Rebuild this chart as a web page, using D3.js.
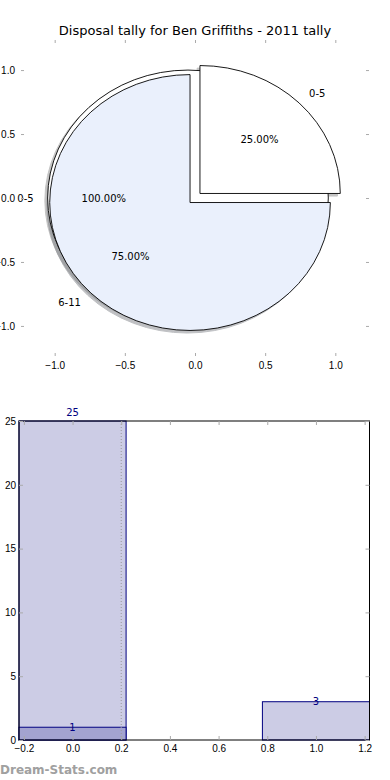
<!DOCTYPE html>
<html>
<head>
<meta charset="utf-8">
<script src="https://cdn.jsdelivr.net/npm/d3@7"></script>
<style>
  body { margin: 0; background: #fff; }
  svg { display: block; font-family: "DejaVu Sans", sans-serif; }
  .tick line { stroke: #aaa; }
  .tick text { fill: #000; font-size: 10px; }
</style>
</head>
<body>
<svg id="chart" width="390" height="780"></svg>
<script>
// pie data
const pieTitle = "Disposal tally for Ben Griffiths - 2011 tally";
const backLabels = ["0-5"];
const backValues = [1];
const pieLabels = ["0-5", "6-11"];
const pieValues = [1, 3];
const pieColors = ["#ffffff", "#eaf0fc"];
const pieTicks = [-1, -0.5, 0, 0.5, 1];

// bar data
const barCats = [0, 1];
const barTotals = [25, 3];
const barFirst = [1];
const barXTicks = [-0.2, 0, 0.2, 0.4, 0.6, 0.8, 1.0, 1.2];
const barYTicks = [0, 5, 10, 15, 20, 25];
const gridAt = [0.2];

const explode = 0.05;
const barWidth = 0.44;

const svg = d3.select("#chart");

// ---------- pie ----------
const px = d3.scaleLinear().domain([-1.24, 1.24]).range([21, 369]);
const py = d3.scaleLinear().domain([-1.235, 1.235]).range([356, 40]);
const kx = px(1) - px(0), ky = py(0) - py(1);

svg.append("text")
    .attr("x", 195).attr("y", 30)
    .attr("text-anchor", "middle")
    .attr("dominant-baseline", "central")
    .attr("font-size", 13)
    .text(pieTitle);

// matplotlib-ish: start at 0deg, counterclockwise -> d3 angle = pi/2 - theta
const pie = d3.pie().sort(null).startAngle(Math.PI / 2).endAngle(Math.PI / 2 - 2 * Math.PI);
const arc = d3.arc().innerRadius(0).outerRadius(1);

function wedges(values, labels, colors) {
    return pie(values).map((d, i) => {
        const theta = Math.PI / 2 - (d.startAngle + d.endAngle) / 2;
        return {
            d, label: labels[i], color: colors[i],
            pct: d.value / d3.sum(values),
            cx: explode * Math.cos(theta), cy: explode * Math.sin(theta),
            ux: Math.cos(theta), uy: Math.sin(theta)
        };
    });
}

const back = wedges(backValues, backLabels, ["#ffffff"]);
const front = wedges(pieValues, pieLabels, pieColors);
const all = back.concat(front);

const pieG = svg.append("g");

// shadows first
pieG.selectAll(".shadow")
    .data(all)
    .join("path")
    .attr("class", "shadow")
    .attr("d", w => arc(w.d))
    .attr("transform", w => `translate(${px(w.cx - 0.02)},${py(w.cy - 0.02)}) scale(${kx},${ky})`)
    .attr("fill", w => d3.rgb(w.color).darker(1.7))
    .attr("stroke", w => d3.rgb(w.color).darker(1.7))
    .attr("vector-effect", "non-scaling-stroke")
    .attr("stroke-width", 1)
    .attr("opacity", 0.5);

pieG.selectAll(".wedge")
    .data(all)
    .join("path")
    .attr("class", "wedge")
    .attr("d", w => arc(w.d))
    .attr("transform", w => `translate(${px(w.cx)},${py(w.cy)}) scale(${kx},${ky})`)
    .attr("fill", w => w.color)
    .attr("stroke", "#000")
    .attr("stroke-width", 0.9)
    .attr("vector-effect", "non-scaling-stroke");

pieG.selectAll(".lbl")
    .data(all)
    .join("text")
    .attr("class", "lbl")
    .attr("x", w => px(w.cx + 1.1 * w.ux))
    .attr("y", w => py(w.cy + 1.1 * w.uy))
    .attr("text-anchor", w => w.ux > 0 ? "start" : "end")
    .attr("dominant-baseline", "central")
    .attr("font-size", 10)
    .text(w => w.label);

pieG.selectAll(".pct")
    .data(all)
    .join("text")
    .attr("class", "pct")
    .attr("x", w => px(w.cx + 0.6 * w.ux))
    .attr("y", w => py(w.cy + 0.6 * w.uy))
    .attr("text-anchor", "middle")
    .attr("dominant-baseline", "central")
    .attr("font-size", 10)
    .text(w => d3.format(".2f")(w.pct * 100) + "%");

const fmt1 = d3.format(".1f");
svg.append("g").attr("transform", `translate(0,${py.range()[0]})`)
    .call(d3.axisBottom(px).tickValues(pieTicks).tickFormat(fmt1).tickSize(-3).tickPadding(6))
    .call(g => g.select(".domain").remove());
svg.append("g").attr("transform", `translate(0,${py.range()[1]})`)
    .call(d3.axisTop(px).tickValues(pieTicks).tickFormat("").tickSize(-3))
    .call(g => g.select(".domain").remove());
svg.append("g").attr("transform", `translate(${px.range()[0]},0)`)
    .call(d3.axisLeft(py).tickValues(pieTicks).tickFormat(fmt1).tickSize(-3).tickPadding(6))
    .call(g => g.select(".domain").remove());
svg.append("g").attr("transform", `translate(${px.range()[1]},0)`)
    .call(d3.axisRight(py).tickValues(pieTicks).tickFormat("").tickSize(-3))
    .call(g => g.select(".domain").remove());

// ---------- bars ----------
const bx = d3.scaleLinear().domain([-0.22, 1.22]).range([19, 369.5]);
const by = d3.scaleLinear().domain([0, 25]).range([740, 421]);

const barG = svg.append("g");

barG.selectAll(".total")
    .data(barCats)
    .join("rect")
    .attr("class", "total")
    .attr("x", (c) => bx(c - barWidth / 2))
    .attr("width", (c) => bx(c + barWidth / 2) - bx(c - barWidth / 2))
    .attr("y", (c, i) => by(barTotals[i]))
    .attr("height", (c, i) => by(0) - by(barTotals[i]))
    .attr("fill", "#ccccE5")
    .attr("stroke", "#000080")
    .attr("stroke-width", 1);

barG.selectAll(".first")
    .data(barFirst)
    .join("rect")
    .attr("class", "first")
    .attr("x", (v, i) => bx(barCats[i] - barWidth / 2))
    .attr("width", (v, i) => bx(barCats[i] + barWidth / 2) - bx(barCats[i] - barWidth / 2))
    .attr("y", v => by(v))
    .attr("height", v => by(0) - by(v))
    .attr("fill", "#a3a3d0")
    .attr("stroke", "#000080")
    .attr("stroke-width", 1);

barG.selectAll(".grid")
    .data(gridAt)
    .join("line")
    .attr("class", "grid")
    .attr("x1", bx).attr("x2", bx)
    .attr("y1", by(0)).attr("y2", by(25))
    .attr("stroke", "#999")
    .attr("stroke-dasharray", "1,2");

// a value label sitting on the top edge is lifted above the frame
const topY = by.range()[1];
const labelY = v => by(v) <= topY + 1 ? topY - 9 : by(v);
barG.selectAll(".vt")
    .data(barCats)
    .join("text")
    .attr("class", "vt")
    .attr("x", c => bx(c))
    .attr("y", (c, i) => labelY(barTotals[i]))
    .attr("text-anchor", "middle")
    .attr("dominant-baseline", "central")
    .attr("font-size", 10)
    .attr("fill", "#000080")
    .text((c, i) => barTotals[i]);

barG.selectAll(".vf")
    .data(barFirst)
    .join("text")
    .attr("class", "vf")
    .attr("x", (v, i) => bx(barCats[i]))
    .attr("y", v => labelY(v))
    .attr("text-anchor", "middle")
    .attr("dominant-baseline", "central")
    .attr("font-size", 10)
    .attr("fill", "#000080")
    .text(v => v);

// frame
svg.append("rect")
    .attr("x", bx.range()[0]).attr("y", by.range()[1])
    .attr("width", bx.range()[1] - bx.range()[0])
    .attr("height", by.range()[0] - by.range()[1])
    .attr("fill", "none")
    .attr("stroke", "#000")
    .attr("stroke-width", 1);

svg.append("g").attr("transform", `translate(0,${by.range()[0]})`)
    .call(d3.axisBottom(bx).tickValues(barXTicks).tickFormat(fmt1).tickSize(-4).tickPadding(5))
    .call(g => g.select(".domain").remove());
svg.append("g").attr("transform", `translate(0,${by.range()[1]})`)
    .call(d3.axisTop(bx).tickValues(barXTicks).tickFormat("").tickSize(-4))
    .call(g => g.select(".domain").remove());
svg.append("g").attr("transform", `translate(${bx.range()[0]},0)`)
    .call(d3.axisLeft(by).tickValues(barYTicks).tickFormat(d3.format("d")).tickSize(-4).tickPadding(3))
    .call(g => g.select(".domain").remove());
svg.append("g").attr("transform", `translate(${bx.range()[1]},0)`)
    .call(d3.axisRight(by).tickValues(barYTicks).tickFormat("").tickSize(-4))
    .call(g => g.select(".domain").remove());

svg.append("text")
    .attr("x", 0).attr("y", 770)
    .attr("dominant-baseline", "central")
    .attr("font-size", 12)
    .attr("font-weight", "bold")
    .attr("fill", "#a0a0a0")
    .text("Dream-Stats.com");
</script>
</body>
</html>
